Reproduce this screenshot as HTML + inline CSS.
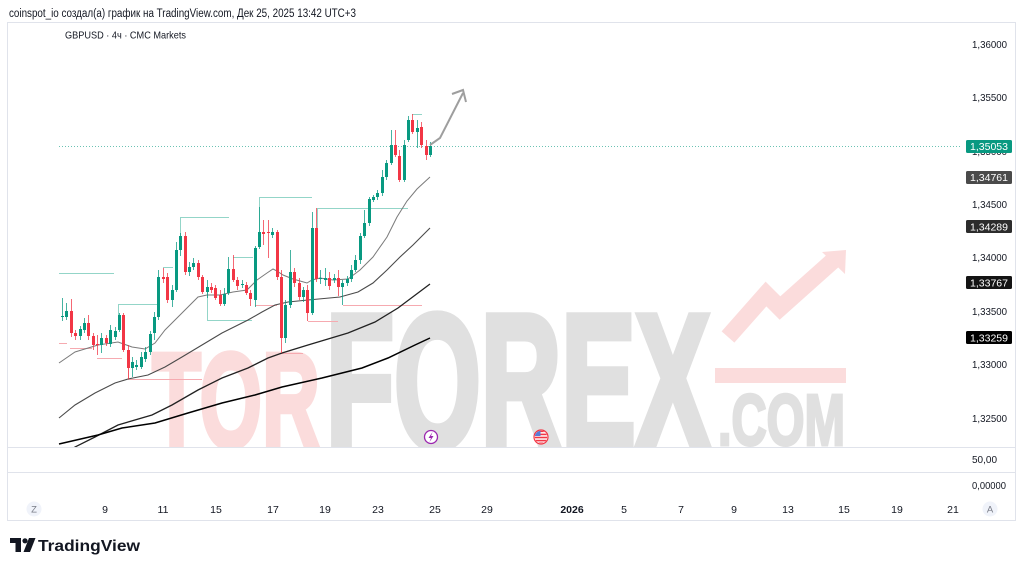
<!DOCTYPE html>
<html><head><meta charset="utf-8"><style>
html,body{margin:0;padding:0;background:#fff;}
svg{display:block;font-family:"Liberation Sans","Noto Sans CJK SC",sans-serif;}
</style></head><body>
<svg width="1024" height="570" viewBox="0 0 1024 570" xmlns="http://www.w3.org/2000/svg">
<defs>
<clipPath id="pane"><rect x="8" y="23" width="952" height="424"/></clipPath>
<clipPath id="flag"><circle cx="541" cy="437" r="6.2"/></clipPath>
</defs>
<rect width="1024" height="570" fill="#fff"/>
<text x="9" y="17" font-size="11.5" fill="#131722" textLength="347" lengthAdjust="spacingAndGlyphs">coinspot_io создал(а) график на TradingView.com, Дек 25, 2025 13:42 UTC+3</text>
<rect x="7.5" y="22.5" width="1008" height="498" fill="none" stroke="#e0e3eb"/>
<line x1="8" y1="447.5" x2="1015" y2="447.5" stroke="#e0e3eb"/>
<line x1="8" y1="472.5" x2="1015" y2="472.5" stroke="#e0e3eb"/>

<g clip-path="url(#pane)">
<!-- watermark -->
<text x="152" y="447" font-size="135" font-weight="bold" fill="#fbdcdc" stroke="#fbdcdc" stroke-width="5" textLength="168" lengthAdjust="spacingAndGlyphs">TOR</text>
<text x="326" y="447" font-size="190" font-weight="bold" fill="#e0e0e0" stroke="#e0e0e0" stroke-width="8" textLength="384" lengthAdjust="spacingAndGlyphs">FOREX</text>
<text x="718" y="445" font-size="72" font-weight="bold" fill="#e0e0e0" stroke="#e0e0e0" stroke-width="3" textLength="127" lengthAdjust="spacingAndGlyphs">.COM</text>
<polyline points="728,337 766,294 780,308 836,258" fill="none" stroke="#fbdcdc" stroke-width="17" stroke-linejoin="miter"/>
<polygon points="822,252 846,250 845,274" fill="#fbdcdc"/>
<rect x="715" y="368" width="131" height="15" fill="#fbdcdc"/>

<!-- pivot lines -->
<path fill="none" stroke="#93d5c8" stroke-width="1" d="M59 273.5H114M118 304.5H158M118.5 304V315M163 267.5H173M180 217.5H229M180.5 217V236M207 320.5H252M207.5 290V320M233 257.5H253M259 197.5H312M259.5 197V232M317 208.5H408M317.5 208V228M412 114.5H422"/>
<path fill="none" stroke="#f6aab0" stroke-width="1" d="M59 343.5H67M70 348.5H92M97 358.5H122M128 379.5H202M128.5 368V379M255 305.5H277M281 353.5H303M308 321.5H338M343 305.5H422"/>

<!-- current price dotted line -->
<line x1="59" y1="146.5" x2="962" y2="146.5" stroke="#089981" stroke-opacity="0.6" stroke-dasharray="1 2"/>

<!-- moving averages -->
<polyline fill="none" stroke="#7a7a7a" stroke-width="1" points="59,363 75,352 98,345 118,342 132,347 145,349 155,343 165,330 182,313 198,297 207,295 220,295 233,292 247,290 257,280 267,273 273,269 277,271 283,275 293,279 307,283 312,280 320,278 333,280 348,279 360,270 373,257 387,237 397,217 407,201 417,189 430,177"/>
<polyline fill="none" stroke="#4a4a4a" stroke-width="1.1" points="59,418 75,405 95,393 115,383 128,379 148,375 165,367 182,357 202,345 222,333 248,320 262,312 275,305 288,302 308,300 340,297 358,292 373,283 387,270 400,257 413,245 430,228"/>
<polyline fill="none" stroke="#222" stroke-width="1.3" points="68,452 75,447 95,437 118,425 152,415 172,405 198,390 222,378 248,368 268,358 282,353 308,345 348,333 375,322 398,308 422,290 430,284"/>
<polyline fill="none" stroke="#000" stroke-width="1.5" points="59,444 98,435 122,428 155,423 188,413 222,403 255,395 282,387 322,378 362,368 388,358 415,345 430,338"/>

<!-- green wicks -->
<path fill="none" stroke="#089981" stroke-opacity="0.75" stroke-width="1" d="M62.5 298V321M66.5 303V320M80.5 326V340M84.5 318V333M101.5 333V353M110.5 325V347M115.5 327V340M119.5 313V332M132.5 357V377M136.5 360V370M141.5 352V369M145.5 347V362M150.5 331V355M154.5 312V340M158.5 270V320M172.5 285V307M176.5 242V292M180.5 233V256M189.5 262V276M193.5 258V270M207.5 280V298M224.5 288V306M228.5 257V295M242.5 280V288M255.5 246V307M259.5 207V249M272.5 228V238M285.5 300V343M290.5 250V308M303.5 287V302M312.5 212V315M320.5 270V284M325.5 268V286M334.5 274V283M342.5 280V305M347.5 276V286M351.5 265V282M355.5 255V272M360.5 233V264M364.5 210V238M369.5 197V226M373.5 195V202M377.5 190V200M382.5 170V196M386.5 160V180M391.5 130V165M404.5 140V182M408.5 116V142M417.5 120V148M430.5 142V157"/>
<!-- red wicks -->
<path fill="none" stroke="#f23645" stroke-opacity="0.75" stroke-width="1" d="M71.5 299V337M75.5 330V340M88.5 315V340M93.5 333V350M97.5 335V355M106.5 335V346M123.5 313V352M128.5 345V379M163.5 268V283M167.5 273V303M185.5 232V275M198.5 260V280M202.5 275V294M211.5 283V293M215.5 285V300M220.5 290V306M233.5 255V282M237.5 277V290M246.5 282V295M250.5 290V306M263.5 220V245M268.5 220V258M277.5 230V280M281.5 270V353M294.5 268V287M299.5 278V300M307.5 285V321M316.5 208V282M329.5 272V290M338.5 270V296M395.5 130V157M399.5 150V182M412.5 114V134M421.5 122V148M426.5 140V160"/>
<!-- green bodies -->
<path fill="#089981" d="M61 316h3v1h-3zM65 311h3v6h-3zM79 329h3v7h-3zM83 323h3v7h-3zM100 338h3v7h-3zM109 330h3v14h-3zM114 331h3v6h-3zM118 315h3v15h-3zM131 362h3v6h-3zM135 365h3v2h-3zM140 357h3v10h-3zM144 352h3v7h-3zM149 334h3v18h-3zM153 317h3v16h-3zM157 277h3v40h-3zM171 290h3v10h-3zM175 250h3v40h-3zM179 236h3v14h-3zM188 267h3v5h-3zM192 263h3v4h-3zM206 287h3v5h-3zM223 294h3v10h-3zM227 269h3v24h-3zM241 284h3v1h-3zM254 248h3v52h-3zM258 232h3v15h-3zM271 232h3v3h-3zM284 305h3v33h-3zM289 272h3v33h-3zM302 290h3v7h-3zM311 228h3v85h-3zM319 278h3v1h-3zM324 278h3v2h-3zM333 278h3v2h-3zM341 283h3v4h-3zM346 279h3v4h-3zM350 270h3v9h-3zM354 260h3v10h-3zM359 236h3v24h-3zM363 223h3v13h-3zM368 199h3v24h-3zM372 197h3v3h-3zM376 193h3v4h-3zM381 177h3v16h-3zM385 163h3v14h-3zM390 145h3v18h-3zM403 145h3v35h-3zM407 120h3v20h-3zM416 128h3v4h-3zM429 146h3v9h-3z"/>
<!-- red bodies -->
<path fill="#f23645" d="M70 311h3v22h-3zM74 333h3v3h-3zM87 323h3v13h-3zM92 336h3v9h-3zM96 344h3v1h-3zM105 338h3v5h-3zM122 315h3v35h-3zM127 350h3v18h-3zM162 277h3v2h-3zM166 277h3v23h-3zM184 236h3v36h-3zM197 263h3v14h-3zM201 277h3v15h-3zM210 287h3v3h-3zM214 288h3v10h-3zM219 295h3v9h-3zM232 269h3v11h-3zM236 280h3v6h-3zM245 285h3v8h-3zM249 293h3v6h-3zM262 232h3v2h-3zM267 232h3v1h-3zM276 232h3v45h-3zM280 277h3v61h-3zM293 272h3v11h-3zM298 283h3v14h-3zM306 290h3v23h-3zM315 228h3v51h-3zM328 278h3v8h-3zM337 278h3v9h-3zM394 145h3v10h-3zM398 156h3v24h-3zM411 120h3v12h-3zM420 127h3v18h-3zM425 146h3v9h-3z"/>
</g>

<!-- arrow -->
<polyline points="430,145 440,138 463,93" fill="none" stroke="#9e9e9e" stroke-width="2"/>
<polyline points="452,94 463,90 466,102" fill="none" stroke="#9e9e9e" stroke-width="2"/>

<!-- event icons -->
<circle cx="431" cy="437" r="6.5" fill="#fff" stroke="#9c27b0" stroke-width="1.3"/>
<path d="M432.5 432 L428.5 438 L431 438 L429.5 442 L433.5 436 L431 436 Z" fill="#9c27b0"/>
<circle cx="541" cy="437" r="7" fill="#fff" stroke="#f23645" stroke-width="1.2"/>
<g clip-path="url(#flag)">
<rect x="534" y="430" width="14" height="14" fill="#fff"/>
<rect x="534" y="430.5" width="14" height="1.6" fill="#f23645"/>
<rect x="534" y="433.6" width="14" height="1.6" fill="#f23645"/>
<rect x="534" y="436.7" width="14" height="1.6" fill="#f23645"/>
<rect x="534" y="439.8" width="14" height="1.6" fill="#f23645"/>
<rect x="534" y="442.5" width="14" height="1.6" fill="#f23645"/>
<rect x="534" y="430" width="6.5" height="6" fill="#5b7bd5"/>
</g>

<!-- symbol -->
<text x="65" y="38.5" font-size="10.5" fill="#131722" textLength="121" lengthAdjust="spacingAndGlyphs">GBPUSD · 4ч · CMC Markets</text>

<!-- price axis -->
<g font-size="10.5" fill="#131722">
<text x="972" y="48" textLength="35" lengthAdjust="spacingAndGlyphs">1,36000</text>
<text x="972" y="101" textLength="35" lengthAdjust="spacingAndGlyphs">1,35500</text>
<text x="972" y="155" textLength="35" lengthAdjust="spacingAndGlyphs">1,35000</text>
<text x="972" y="208" textLength="35" lengthAdjust="spacingAndGlyphs">1,34500</text>
<text x="972" y="261" textLength="35" lengthAdjust="spacingAndGlyphs">1,34000</text>
<text x="972" y="315" textLength="35" lengthAdjust="spacingAndGlyphs">1,33500</text>
<text x="972" y="368" textLength="35" lengthAdjust="spacingAndGlyphs">1,33000</text>
<text x="972" y="422" textLength="35" lengthAdjust="spacingAndGlyphs">1,32500</text>
<text x="972" y="463" textLength="25" lengthAdjust="spacingAndGlyphs">50,00</text>
<text x="972" y="489" textLength="34" lengthAdjust="spacingAndGlyphs">0,00000</text>
</g>
<rect x="966" y="140" width="46" height="13" rx="1.5" fill="#089981"/>
<text x="970" y="150" font-size="10.5" fill="#fff" textLength="38" lengthAdjust="spacingAndGlyphs">1,35053</text>
<rect x="966" y="171" width="46" height="13" rx="1.5" fill="#4a4a4a"/>
<text x="970" y="181" font-size="10.5" fill="#fff" textLength="38" lengthAdjust="spacingAndGlyphs">1,34761</text>
<rect x="966" y="220" width="46" height="13" rx="1.5" fill="#2c2c2c"/>
<text x="970" y="230.5" font-size="10.5" fill="#fff" textLength="38" lengthAdjust="spacingAndGlyphs">1,34289</text>
<rect x="966" y="276" width="46" height="13" rx="1.5" fill="#141414"/>
<text x="970" y="286.5" font-size="10.5" fill="#fff" textLength="38" lengthAdjust="spacingAndGlyphs">1,33767</text>
<rect x="966" y="331" width="46" height="13" rx="1.5" fill="#000"/>
<text x="970" y="341.5" font-size="10.5" fill="#fff" textLength="38" lengthAdjust="spacingAndGlyphs">1,33259</text>

<!-- time axis -->
<circle cx="34" cy="509" r="7.5" fill="#f0f3fa"/>
<text x="34" y="512.5" font-size="9.5" fill="#787b86" text-anchor="middle">Z</text>
<circle cx="990" cy="509" r="7.5" fill="#f0f3fa"/>
<text x="990" y="512.5" font-size="9.5" fill="#787b86" text-anchor="middle">A</text>
<g font-size="10.5" fill="#131722" text-anchor="middle">
<text x="105" y="513">9</text>
<text x="163" y="513">11</text>
<text x="216" y="513">15</text>
<text x="273" y="513">17</text>
<text x="325" y="513">19</text>
<text x="378" y="513">23</text>
<text x="435" y="513">25</text>
<text x="487" y="513">29</text>
<text x="572" y="513" font-weight="bold">2026</text>
<text x="624" y="513">5</text>
<text x="681" y="513">7</text>
<text x="734" y="513">9</text>
<text x="788" y="513">13</text>
<text x="844" y="513">15</text>
<text x="897" y="513">19</text>
<text x="953" y="513">21</text>
</g>

<!-- TradingView logo -->
<path d="M10 538 H21 V552 H15.5 V543 H10 Z" fill="#131722"/>
<circle cx="25" cy="540.8" r="2.6" fill="#131722"/>
<path d="M29 538 H35.5 L30 552 H23.5 Z" fill="#131722"/>
<text x="38" y="551" font-size="16" font-weight="bold" fill="#131722" textLength="102" lengthAdjust="spacingAndGlyphs">TradingView</text>
</svg>
</body></html>
